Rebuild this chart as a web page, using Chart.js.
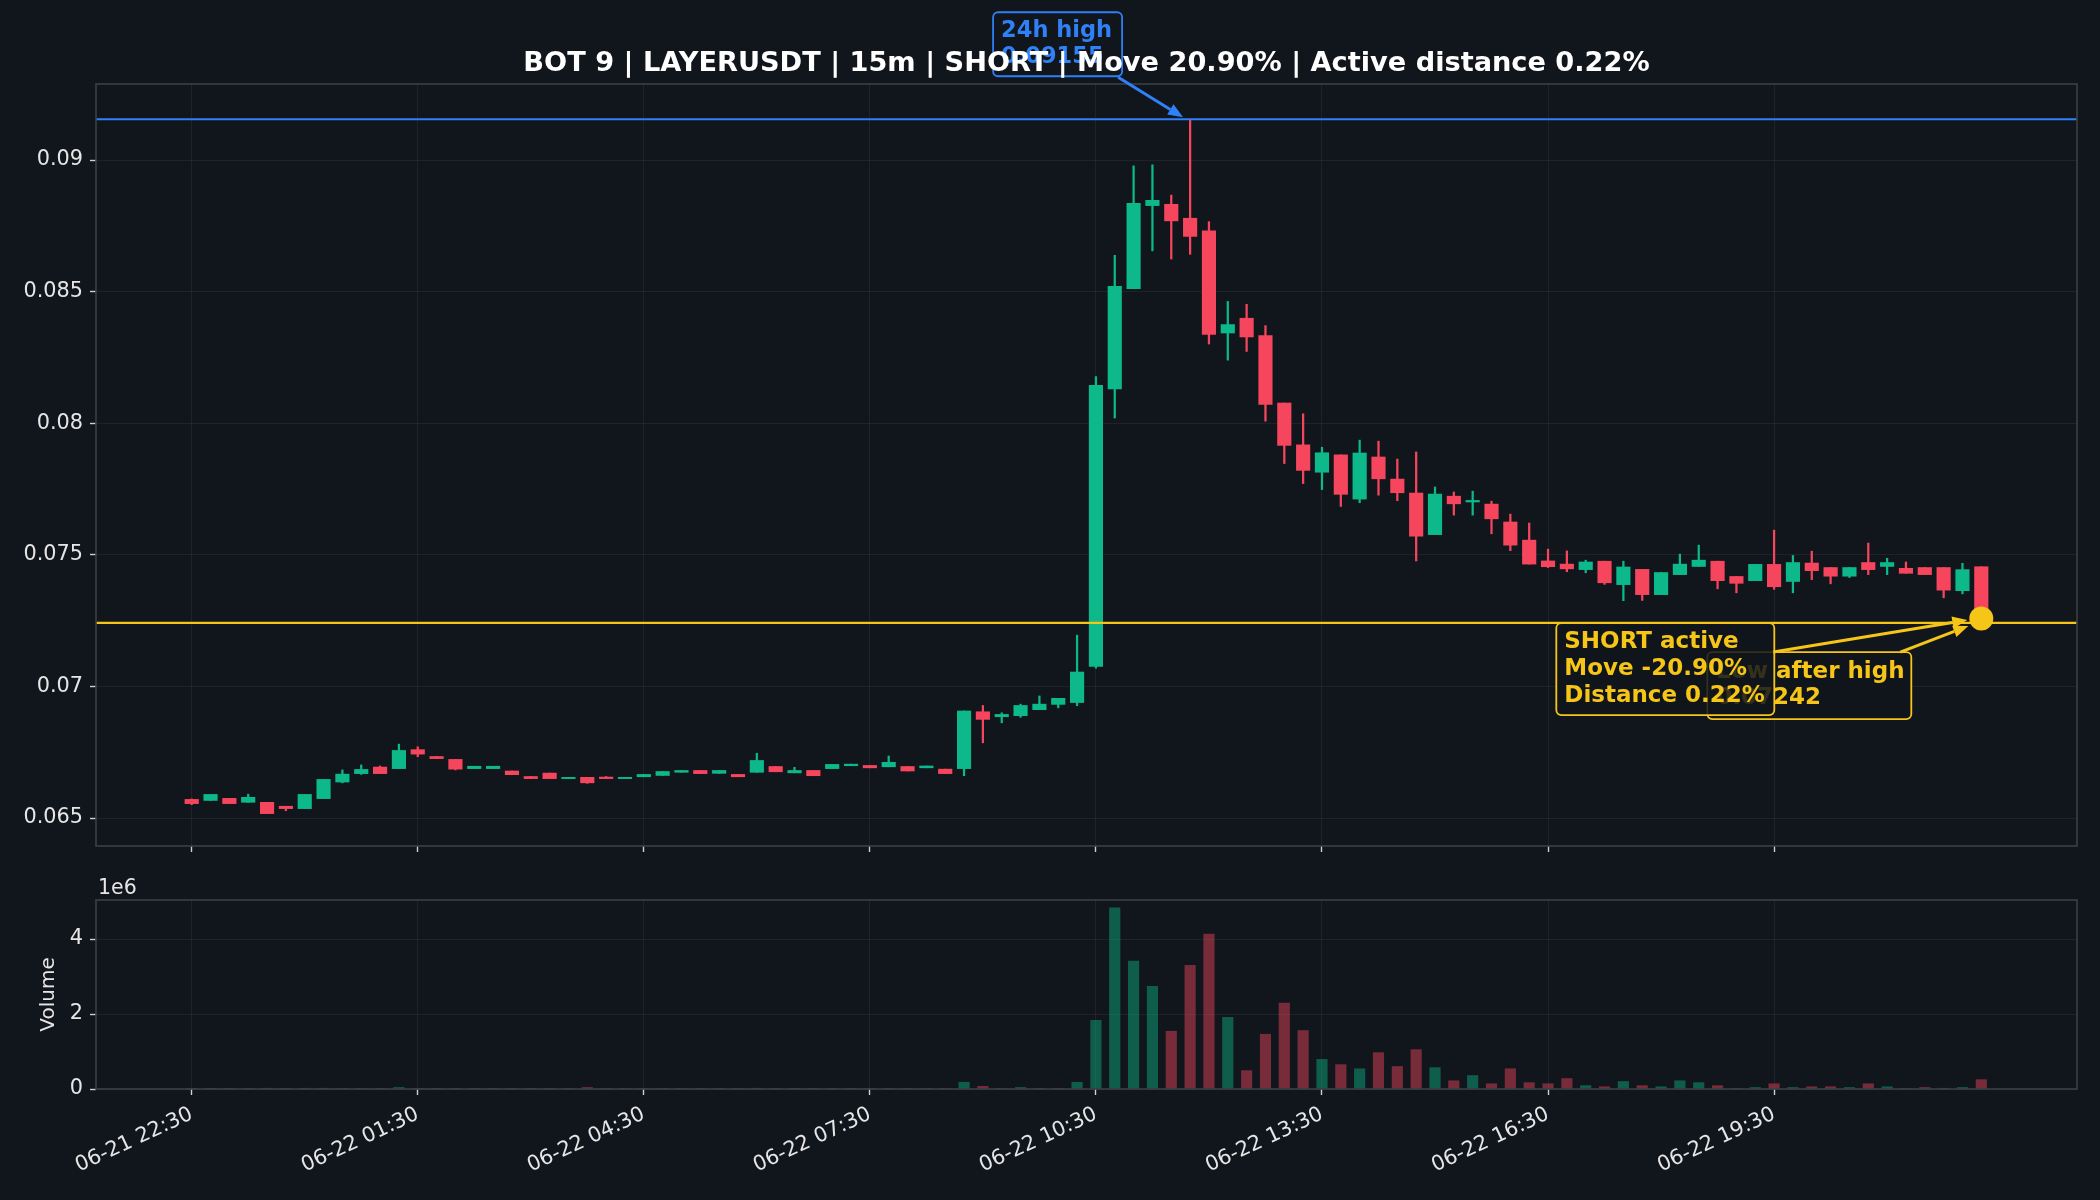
<!DOCTYPE html>
<html>
<head>
<meta charset="utf-8">
<script src="https://cdn.jsdelivr.net/npm/chart.js@4.4.1/dist/chart.umd.min.js"></script>
<style>
html, body { margin: 0; padding: 0; background: #11151c; }
#wrap { position: relative; width: 2100px; height: 1200px; }
canvas { position: absolute; left: 0; }
</style>
</head>
<body>
<div id="wrap">
  <canvas id="priceChart" width="2100" height="880" style="top:0px"></canvas>
  <canvas id="volChart" width="2100" height="340" style="top:860px"></canvas>
</div>
<script>
// LAYERUSDT 15m candles, 06-21 22:30 -> 06-22 22:15 (96 bars)
const open = [
  0.06571, 0.06567, 0.06575, 0.06560, 0.06560, 0.06545, 0.06536, 0.06574, 0.06637, 0.06669,
  0.06694, 0.06688, 0.06760, 0.06734, 0.06723, 0.06688, 0.06688, 0.06679, 0.06658, 0.06671,
  0.06650, 0.06655, 0.06656, 0.06650, 0.06657, 0.06662, 0.06674, 0.06681, 0.06670, 0.06666,
  0.06674, 0.06696, 0.06672, 0.06681, 0.06688, 0.06699, 0.06700, 0.06695, 0.06696, 0.06691,
  0.06686, 0.06688, 0.06904, 0.06885, 0.06889, 0.06912, 0.06932, 0.06939, 0.07076, 0.08131,
  0.08511, 0.08827, 0.08832, 0.08779, 0.08731, 0.08343, 0.08399, 0.08333, 0.08077, 0.07918,
  0.07814, 0.07880, 0.07712, 0.07872, 0.07788, 0.07735, 0.07577, 0.07723, 0.07701, 0.07693,
  0.07625, 0.07556, 0.07477, 0.07465, 0.07444, 0.07476, 0.07387, 0.07445, 0.07349, 0.07425,
  0.07456, 0.07476, 0.07418, 0.07402, 0.07464, 0.07399, 0.07469, 0.07452, 0.07419, 0.07471,
  0.07456, 0.07449, 0.07452, 0.07452, 0.07364, 0.07455
];
const high = [
  0.06573, 0.06590, 0.06575, 0.06591, 0.06560, 0.06545, 0.06590, 0.06647, 0.06683, 0.06702,
  0.06698, 0.06781, 0.06771, 0.06734, 0.06723, 0.06697, 0.06697, 0.06679, 0.06658, 0.06671,
  0.06655, 0.06655, 0.06658, 0.06655, 0.06666, 0.06677, 0.06681, 0.06681, 0.06681, 0.06666,
  0.06746, 0.06696, 0.06693, 0.06681, 0.06704, 0.06705, 0.06700, 0.06736, 0.06696, 0.06698,
  0.06686, 0.06907, 0.06928, 0.06900, 0.06933, 0.06964, 0.06955, 0.07195, 0.08177, 0.08638,
  0.08978, 0.08982, 0.08867, 0.09155, 0.08766, 0.08463, 0.08452, 0.08371, 0.08077, 0.08036,
  0.07909, 0.07880, 0.07936, 0.07932, 0.07864, 0.07891, 0.07758, 0.07739, 0.07742, 0.07704,
  0.07655, 0.07621, 0.07522, 0.07515, 0.07480, 0.07476, 0.07476, 0.07445, 0.07433, 0.07503,
  0.07537, 0.07476, 0.07418, 0.07464, 0.07594, 0.07498, 0.07514, 0.07452, 0.07452, 0.07545,
  0.07487, 0.07473, 0.07452, 0.07452, 0.07468, 0.07455
];
const low = [
  0.06551, 0.06567, 0.06555, 0.06560, 0.06517, 0.06528, 0.06536, 0.06574, 0.06634, 0.06666,
  0.06669, 0.06688, 0.06733, 0.06726, 0.06683, 0.06688, 0.06688, 0.06665, 0.06650, 0.06650,
  0.06650, 0.06632, 0.06650, 0.06650, 0.06657, 0.06662, 0.06674, 0.06669, 0.06670, 0.06657,
  0.06674, 0.06676, 0.06672, 0.06661, 0.06688, 0.06699, 0.06691, 0.06695, 0.06679, 0.06691,
  0.06669, 0.06661, 0.06786, 0.06862, 0.06883, 0.06912, 0.06919, 0.06927, 0.07070, 0.08020,
  0.08511, 0.08655, 0.08624, 0.08642, 0.08301, 0.08240, 0.08273, 0.08008, 0.07847, 0.07771,
  0.07748, 0.07684, 0.07698, 0.07727, 0.07706, 0.07477, 0.07577, 0.07651, 0.07651, 0.07580,
  0.07516, 0.07465, 0.07452, 0.07436, 0.07432, 0.07388, 0.07326, 0.07327, 0.07349, 0.07425,
  0.07456, 0.07371, 0.07356, 0.07402, 0.07369, 0.07356, 0.07406, 0.07390, 0.07414, 0.07425,
  0.07425, 0.07430, 0.07425, 0.07337, 0.07352, 0.07242
];
const close = [
  0.06555, 0.06590, 0.06555, 0.06579, 0.06517, 0.06536, 0.06590, 0.06647, 0.06667, 0.06685,
  0.06669, 0.06757, 0.06743, 0.06726, 0.06686, 0.06697, 0.06697, 0.06665, 0.06650, 0.06650,
  0.06655, 0.06634, 0.06650, 0.06655, 0.06666, 0.06677, 0.06681, 0.06669, 0.06681, 0.06657,
  0.06719, 0.06676, 0.06681, 0.06661, 0.06704, 0.06705, 0.06691, 0.06712, 0.06679, 0.06698,
  0.06669, 0.06907, 0.06875, 0.06894, 0.06928, 0.06933, 0.06955, 0.07055, 0.08144, 0.08520,
  0.08836, 0.08847, 0.08769, 0.08710, 0.08338, 0.08375, 0.08328, 0.08072, 0.07916, 0.07821,
  0.07888, 0.07730, 0.07887, 0.07789, 0.07736, 0.07571, 0.07731, 0.07694, 0.07707, 0.07637,
  0.07537, 0.07465, 0.07455, 0.07447, 0.07473, 0.07394, 0.07454, 0.07349, 0.07433, 0.07465,
  0.07480, 0.07402, 0.07392, 0.07464, 0.07379, 0.07471, 0.07440, 0.07419, 0.07452, 0.07444,
  0.07471, 0.07430, 0.07425, 0.07366, 0.07444, 0.07258
];
const volume = [
  0.01e6, 0.01e6, 0.01e6, 0.01e6, 0.02e6, 0.01e6, 0.02e6, 0.02e6, 0.01e6, 0.01e6,
  0.01e6, 0.04e6, 0.01e6, 0.01e6, 0.01e6, 0.01e6, 0.01e6, 0.01e6, 0.01e6, 0.01e6,
  0.01e6, 0.04e6, 0.01e6, 0.01e6, 0.01e6, 0.01e6, 0.01e6, 0.01e6, 0.01e6, 0.01e6,
  0.02e6, 0.01e6, 0.01e6, 0.01e6, 0.01e6, 0.01e6, 0.01e6, 0.01e6, 0.01e6, 0.01e6,
  0.01e6, 0.18e6, 0.07e6, 0.01e6, 0.04e6, 0.01e6, 0.01e6, 0.18e6, 1.83e6, 4.83e6,
  3.41e6, 2.74e6, 1.54e6, 3.30e6, 4.13e6, 1.91e6, 0.49e6, 1.46e6, 2.29e6, 1.56e6,
  0.79e6, 0.65e6, 0.54e6, 0.97e6, 0.60e6, 1.05e6, 0.57e6, 0.22e6, 0.36e6, 0.14e6,
  0.54e6, 0.17e6, 0.14e6, 0.28e6, 0.09e6, 0.06e6, 0.20e6, 0.09e6, 0.06e6, 0.22e6,
  0.17e6, 0.09e6, 0.01e6, 0.04e6, 0.14e6, 0.04e6, 0.06e6, 0.06e6, 0.04e6, 0.14e6,
  0.06e6, 0.01e6, 0.04e6, 0.02e6, 0.04e6, 0.25e6
];
const tickIdx = [0, 12, 24, 36, 48, 60, 72, 84];
const tickLabels = ['06-21 22:30', '06-22 01:30', '06-22 04:30', '06-22 07:30',
                    '06-22 10:30', '06-22 13:30', '06-22 16:30', '06-22 19:30'];
const priceTicks = [0.065, 0.07, 0.075, 0.08, 0.085, 0.09];
const volTicks = [0, 2e6, 4e6];

const high24 = 0.09155, high24Idx = 53;
const lowAfterHigh = 0.07242;
const lastPrice = 0.07258, lastIdx = 95;

const titleText = 'BOT 9 | LAYERUSDT | 15m | SHORT | Move 20.90% | Active distance 0.22%';
const highNote = ['24h high', '0.09155'];
const shortNote = ['SHORT active', 'Move -20.90%', 'Distance 0.22%'];
const lowNote = ['Low after high', '0.07242'];

// styling
const FONT = 'DejaVu Sans';
const BG = '#11151c';
const UP = '#0db88a', DOWN = '#f6465d';
const UP_VOL = 'rgba(13,184,138,0.45)', DOWN_VOL = 'rgba(246,70,93,0.45)';
const BLUE = '#2f81f7', YELLOW = '#f5c518';
const TXT = '#e6e6e6', SPINE = '#3b4048', GRID = 'rgba(255,255,255,0.06)';
const X_MIN = -5.08, X_MAX = 100.08;

const idx = open.map((_, i) => i);
const isUp = idx.map(i => close[i] >= open[i]);

function roundBox(c, x, y, w, h, r, fill, stroke) {
  c.beginPath();
  c.moveTo(x + r, y);
  c.arcTo(x + w, y, x + w, y + h, r);
  c.arcTo(x + w, y + h, x, y + h, r);
  c.arcTo(x, y + h, x, y, r);
  c.arcTo(x, y, x + w, y, r);
  c.closePath();
  c.fillStyle = fill; c.fill();
  c.lineWidth = 1.8; c.strokeStyle = stroke; c.stroke();
}

function arrow(c, x1, y1, x2, y2, color) {
  const a = Math.atan2(y2 - y1, x2 - x1), L = 15, W = 6;
  const bx = x2 - L * Math.cos(a), by = y2 - L * Math.sin(a);
  c.strokeStyle = color; c.fillStyle = color; c.lineWidth = 3;
  c.beginPath(); c.moveTo(x1, y1); c.lineTo(bx, by); c.stroke();
  c.beginPath();
  c.moveTo(x2, y2);
  c.lineTo(bx + W * Math.sin(a), by - W * Math.cos(a));
  c.lineTo(bx - W * Math.sin(a), by + W * Math.cos(a));
  c.closePath(); c.fill();
}

const framePlugin = {
  id: 'frame',
  afterDraw(chart) {
    const a = chart.chartArea, c = chart.ctx;
    c.save();
    c.strokeStyle = SPINE; c.lineWidth = 1.6;
    c.strokeRect(a.left, a.top, a.right - a.left, a.bottom - a.top);
    c.restore();
  }
};

const notesPlugin = {
  id: 'notes',
  afterDraw(chart) {
    const c = chart.ctx, xs = chart.scales.x, ys = chart.scales.y, a = chart.chartArea;
    c.save();
    // 24h high note
    const hx = xs.getPixelForValue(high24Idx), hy = ys.getPixelForValue(high24);
    arrow(c, hx - 72, hy - 42, hx - 7, hy - 2, BLUE);
    roundBox(c, hx - 197, hy - 107, 129, 64, 5, BG, BLUE);
    c.fillStyle = BLUE; c.font = 'bold 22.5px ' + FONT; c.textAlign = 'left'; c.textBaseline = 'alphabetic';
    c.fillText(highNote[0], hx - 189, hy - 82);
    c.fillText(highNote[1], hx - 189, hy - 56);

    // low after high + short notes
    const dx = xs.getPixelForValue(lastIdx), dy = ys.getPixelForValue(lastPrice);
    c.font = 'bold 23px ' + FONT;
    roundBox(c, dx - 274, dy + 33.5, 204, 67, 5, 'rgba(17,21,28,0.85)', YELLOW);
    c.fillStyle = YELLOW;
    c.fillText(lowNote[0], dx - 265, dy + 59.5);
    c.fillText(lowNote[1], dx - 265, dy + 85.5);
    arrow(c, dx - 81, dy + 33.5, dx - 13, dy + 7.5, YELLOW);
    roundBox(c, dx - 425, dy + 4.5, 218, 92, 5, 'rgba(17,21,28,0.85)', YELLOW);
    c.fillStyle = YELLOW;
    shortNote.forEach((t, k) => c.fillText(t, dx - 417, dy + 29.5 + k * 27));
    arrow(c, dx - 208, dy + 33.5, dx - 14, dy + 1.5, YELLOW);

    // title on top
    c.fillStyle = '#ffffff'; c.font = 'bold 27.2px ' + FONT; c.textAlign = 'center';
    c.fillText(titleText, (a.left + a.right) / 2, 71);
    c.restore();
  }
};

const volLabelPlugin = {
  id: 'volLabel',
  afterDraw(chart) {
    const c = chart.ctx, a = chart.chartArea;
    c.save();
    c.fillStyle = TXT; c.font = '20.5px ' + FONT; c.textAlign = 'left';
    c.fillText('1e6', a.left + 2, a.top - 6);
    c.restore();
  }
};

const tickFont = { family: FONT, size: 20.8 };

new Chart(document.getElementById('priceChart'), {
  type: 'bar',
  data: {
    datasets: [
      { data: idx.map(i => ({ x: i, y: [open[i], close[i]] })),
        backgroundColor: idx.map(i => isUp[i] ? UP : DOWN),
        barThickness: 13.5, grouped: false, order: 2 },
      { data: idx.map(i => ({ x: i, y: [low[i], high[i]] })),
        backgroundColor: idx.map(i => isUp[i] ? UP : DOWN),
        barThickness: 1.6, grouped: false, order: 3 },
      { type: 'line', data: [{ x: X_MIN, y: high24 }, { x: X_MAX, y: high24 }],
        borderColor: BLUE, borderWidth: 2.2, pointRadius: 0, order: 1 },
      { type: 'line', data: [{ x: X_MIN, y: lowAfterHigh }, { x: X_MAX, y: lowAfterHigh }],
        borderColor: YELLOW, borderWidth: 2.2, pointRadius: 0, order: 1 },
      { type: 'line', data: [{ x: lastIdx, y: lastPrice }], showLine: false,
        pointRadius: 12, pointBackgroundColor: YELLOW, pointBorderWidth: 0, order: 0 }
    ]
  },
  options: {
    responsive: false, animation: false, devicePixelRatio: 1,
    layout: { padding: { top: 84, right: 23, left: 0, bottom: 0 } },
    plugins: { legend: { display: false }, tooltip: { enabled: false }, title: { display: false } },
    scales: {
      x: {
        type: 'linear', min: X_MIN, max: X_MAX, offset: false,
        afterBuildTicks: s => { s.ticks = tickIdx.map(v => ({ value: v })); },
        afterFit: s => { s.height = 34; },
        ticks: { display: false },
        grid: { color: GRID, lineWidth: 1, tickColor: '#d0d0d0', tickWidth: 1.4, tickLength: 6, offset: false },
        border: { display: false }
      },
      y: {
        min: 0.06394, max: 0.09289,
        afterBuildTicks: s => { s.ticks = priceTicks.map(v => ({ value: v })); },
        afterFit: s => { s.width = 96; },
        ticks: { color: TXT, font: tickFont, padding: 7, callback: v => String(+v.toFixed(3)) },
        grid: { color: GRID, lineWidth: 1, tickColor: '#d0d0d0', tickWidth: 1.4, tickLength: 6 },
        border: { display: false }
      }
    }
  },
  plugins: [framePlugin, notesPlugin]
});

new Chart(document.getElementById('volChart'), {
  type: 'bar',
  data: {
    datasets: [
      { data: idx.map(i => ({ x: i, y: volume[i] })),
        backgroundColor: idx.map(i => isUp[i] ? UP_VOL : DOWN_VOL),
        barThickness: 10.5, grouped: false }
    ]
  },
  options: {
    responsive: false, animation: false, devicePixelRatio: 1,
    layout: { padding: { top: 40, right: 23, left: 0, bottom: 0 } },
    plugins: { legend: { display: false }, tooltip: { enabled: false } },
    scales: {
      x: {
        type: 'linear', min: X_MIN, max: X_MAX, offset: false,
        afterBuildTicks: s => { s.ticks = tickIdx.map(v => ({ value: v })); },
        afterFit: s => { s.height = 111; },
        ticks: {
          color: TXT, font: tickFont, autoSkip: false, minRotation: 25, maxRotation: 25, padding: 7,
          callback: v => tickLabels[tickIdx.indexOf(v)]
        },
        grid: { color: GRID, lineWidth: 1, tickColor: '#d0d0d0', tickWidth: 1.4, tickLength: 6, offset: false },
        border: { display: false }
      },
      y: {
        min: 0, max: 5.04e6,
        afterBuildTicks: s => { s.ticks = volTicks.map(v => ({ value: v })); },
        afterFit: s => { s.width = 96; },
        title: { display: true, text: 'Volume', color: TXT, font: { family: FONT, size: 20 }, padding: { top: 37, bottom: 0 } },
        ticks: { color: TXT, font: tickFont, padding: 7, callback: v => String(v / 1e6) },
        grid: { color: GRID, lineWidth: 1, tickColor: '#d0d0d0', tickWidth: 1.4, tickLength: 6 },
        border: { display: false }
      }
    }
  },
  plugins: [framePlugin, volLabelPlugin]
});
</script>
</body>
</html>
